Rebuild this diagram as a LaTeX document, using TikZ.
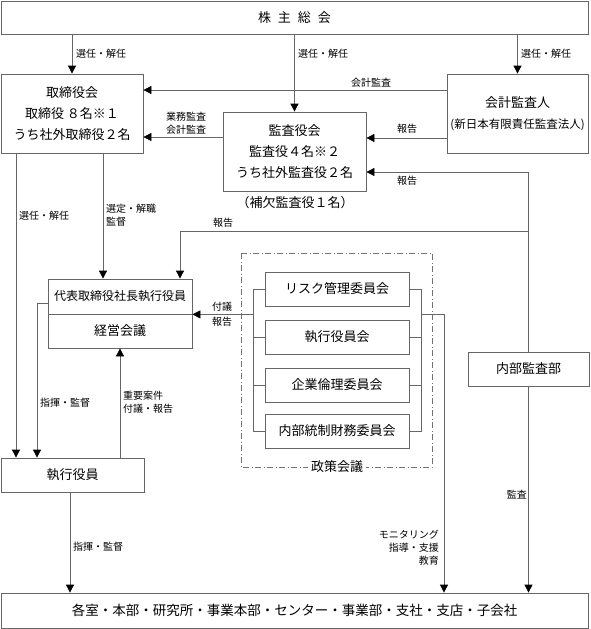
\documentclass[tikz,border=0pt]{standalone}
\usepackage{fontspec}
\setmainfont{Noto Sans CJK JP}
\usetikzlibrary{arrows.meta}
\begin{document}
\begin{tikzpicture}[x=1pt,y=-1pt,
  box/.style={draw=black!60, line width=0.8pt, inner sep=0pt, align=center,
              font=\fontsize{13}{21}\selectfont},
  lbl/.style={inner sep=1pt, font=\fontsize{10}{13}\selectfont},
  conn/.style={draw=black!60, line width=0.8pt},
  arr/.style={conn, -{Triangle[width=8pt,length=8pt,color=black]}},
  dashbox/.style={draw=black!55, line width=0.7pt, dash pattern=on 6pt off 2.5pt on 1pt off 2.5pt}
]
\useasboundingbox (0,0) rectangle (590,629);

% ---------- nodes ----------
\node[box, minimum width=587pt, minimum height=33pt] (top) at (294.5,17.5)
  {株\hspace{7pt}主\hspace{7pt}総\hspace{7pt}会};
\node[box, minimum width=142pt, minimum height=79pt] (tori) at (72,113.5)
  {取締役会\\取締役 ８名※１\\うち社外取締役２名};
\node[box, minimum width=143pt, minimum height=79pt] (kansa) at (294.5,151.5)
  {監査役会\\監査役４名※２\\うち社外監査役２名};
\node[inner sep=0pt, font=\fontsize{13}{15}\selectfont] (hoketsu) at (295,203) {（補欠監査役１名）};
\node[box, minimum width=141pt, minimum height=79pt] (kaikei) at (517.5,113.5)
  {会計監査人\\{\fontsize{11.5}{21}\selectfont (新日本有限責任監査法人)}};

\node[box, minimum width=144pt, minimum height=35pt, font=\fontsize{12}{14}\selectfont] (daihyo) at (120,296.5)
  {代表取締役社長執行役員};
\node[box, minimum width=144pt, minimum height=34pt] (keiei) at (120,331)
  {経営会議};

\node[box, minimum width=144pt, minimum height=34pt] (c1) at (337,289) {リスク管理委員会};
\node[box, minimum width=144pt, minimum height=34pt] (c2) at (337,337) {執行役員会};
\node[box, minimum width=144pt, minimum height=34pt] (c3) at (337,385) {企業倫理委員会};
\node[box, minimum width=144pt, minimum height=34pt] (c4) at (337,431) {内部統制財務委員会};

\draw[dashbox] (241,253) rectangle (432,467);
\node[fill=white, inner sep=3pt, font=\fontsize{13}{15}\selectfont] (seisaku) at (337,467) {政策会議};

\node[box, minimum width=121pt, minimum height=34pt] (naibu) at (528.5,369) {内部監査部};
\node[box, minimum width=143pt, minimum height=34pt] (shikko) at (72.5,475) {執行役員};
\node[box, minimum width=587pt, minimum height=35pt, font=\fontsize{13.5}{16}\selectfont] (bottom) at (294.5,610.5)
  {各室・本部・研究所・事業本部・センター・事業部・支社・支店・子会社};

% helper coordinates
\coordinate (xA) at (16,0);
\coordinate (xB) at (103,0);
\coordinate (xC) at (37,0);
\coordinate (xD) at (120,0);
\coordinate (xE) at (70,0);
\coordinate (xF) at (180,0);
\coordinate (xG) at (444,0);
\coordinate (bl) at (253,0);
\coordinate (br) at (421,0);
\coordinate (y90) at (0,90);
\coordinate (y137) at (0,137);
\coordinate (y303) at (0,303);
\coordinate (j1) at (528.5,172);
\coordinate (j2) at (528.5,231);
\coordinate (m) at (daihyo.south east);

% ---------- connectors ----------
\draw[arr] (top.south -| tori.north) -- (tori.north);
\node[lbl, anchor=west] at (75,54) {選任・解任};
\draw[arr] (top.south -| kansa.north) -- (kansa.north);
\node[lbl, anchor=west] at (297,54) {選任・解任};
\draw[arr] (top.south -| kaikei.north) -- (kaikei.north);
\node[lbl, anchor=west] at (520,54) {選任・解任};

\draw[arr] (kaikei.west |- y90) -- (tori.east |- y90);
\node[lbl] at (371,83) {会計監査};

\draw[arr] (kansa.west |- y137) -- (tori.east |- y137);
\node[lbl, align=center] at (186,123.5) {業務監査\\会計監査};

\draw[arr] (kaikei.west |- 0,138) -- (kansa.east |- 0,138);
\node[lbl] at (407,129) {報告};

\draw[conn] (naibu.north) -- (j1);
\draw[arr] (j1) -- (kansa.east |- j1);
\node[lbl] at (407,181) {報告};
\draw[arr] (j2) -| (daihyo.north -| xF);
\node[lbl] at (223,223) {報告};

\draw[arr] (tori.south -| xA) -- (shikko.north -| xA);
\node[lbl, anchor=west] at (18,216) {選任・解任};
\draw[arr] (tori.south -| xB) -- (daihyo.north -| xB);
\node[lbl, anchor=west, align=left] at (105,215) {選定・解職\\監督};

\draw[arr] (daihyo.west |- y303) -| (shikko.north -| xC);
\node[lbl, anchor=west] at (39,403) {指揮・監督};
\draw[arr] (shikko.north -| xD) -- (keiei.south -| xD);
\node[lbl, anchor=west, align=left] at (122,402) {重要案件\\付議・報告};

% left bracket
\draw[conn] (c1.west) -- (c1.west -| bl) -- (c4.west -| bl) -- (c4.west);
\draw[conn] (c2.west) -- (c2.west -| bl);
\draw[conn] (c3.west) -- (c3.west -| bl);
\draw[arr] (m -| bl) -- (m);
\node[lbl] at (222,307) {付議};
\node[lbl] at (222,322) {報告};

% right bracket
\draw[conn] (c1.east) -- (c1.east -| br) -- (c4.east -| br) -- (c4.east);
\draw[conn] (c2.east) -- (c2.east -| br);
\draw[conn] (c3.east) -- (c3.east -| br);
\draw[arr] (m -| br) -| (bottom.north -| xG);
\node[lbl, anchor=east, align=right] at (440,548) {モニタリング\\指導・支援\\教育};

\draw[arr] (naibu.south) -- (bottom.north -| naibu.south);
\node[lbl, anchor=east] at (528,495) {監査};

\draw[arr] (shikko.south -| xE) -- (bottom.north -| xE);
\node[lbl, anchor=west] at (72,547) {指揮・監督};
\end{tikzpicture}
\end{document}
